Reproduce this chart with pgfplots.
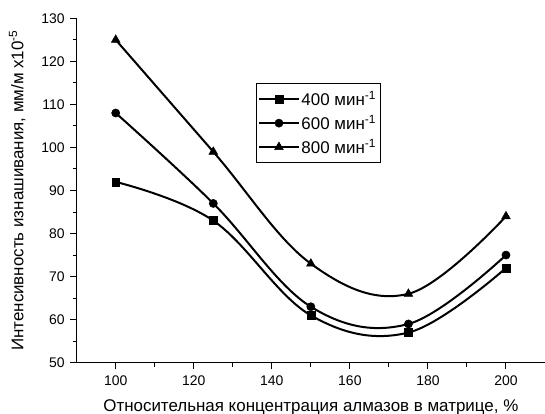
\documentclass[border=0pt]{standalone}
\usepackage{fontspec}
\setmainfont{Liberation Sans}
\usepackage{pgfplots}
\pgfplotsset{compat=1.18}

\begin{document}
\begin{tikzpicture}
\begin{axis}[
  scale only axis,
  width=468.3bp, height=344.4bp,
  xmin=90, xmax=210,
  ymin=50, ymax=130,
  xtick={100,120,...,200},
  ytick={50,60,...,130},
  minor x tick num=1,
  minor y tick num=1,
  axis x line*=bottom,
  axis y line*=left,
  axis line style={black, line width=1.2bp, -},
  tick align=outside,
  major tick length=6.5bp,
  minor tick length=4bp,
  tick style={black, line width=1bp},
  /pgf/number format/assume math mode=true,
  tick label style={font=\fontsize{14}{16}\selectfont},
  yticklabel style={xshift=-2bp},
  xticklabel style={yshift=-3bp},
  label style={font=\fontsize{17}{20}\selectfont},
  xlabel style={yshift=-7bp},
  ylabel style={yshift=9bp},
  xlabel={Относительная концентрация алмазов в матрице, \%},
  ylabel={Интенсивность изнашивания, мм/м x10\textsuperscript{-5}},
  every axis plot/.append style={black, line width=2bp, smooth, tension=0.62,
    mark options={solid, line width=0.5bp, fill=black}},
  legend style={at={(0.383,0.811)}, anchor=north west, draw=black, line width=0.8bp,
    font=\fontsize{17}{20}\selectfont, row sep=5bp, inner xsep=2bp, inner ysep=6bp,
    nodes={inner xsep=2bp, inner ysep=1.5bp}},
  legend cell align=left,
  legend image code/.code={
    \draw[mark repeat=2, mark phase=2] plot coordinates {(0bp,0bp) (19.5bp,0bp) (39bp,0bp)};
  },
]
\addplot[mark=square*, mark size=3.9bp] coordinates {
  (100,92) (125,83) (150,61) (175,57) (200,72)};
\addlegendentry{400 мин\textsuperscript{-1}}
\addplot[mark=*, mark size=4.1bp] coordinates {
  (100,108) (125,87) (150,63) (175,59) (200,75)};
\addlegendentry{600 мин\textsuperscript{-1}}
\addplot[mark=triangle*, mark size=5bp] coordinates {
  (100,125) (125,99) (150,73) (175,66) (200,84)};
\addlegendentry{800 мин\textsuperscript{-1}}
\coordinate (bl) at (rel axis cs:0,0);
\end{axis}
\pgfresetboundingbox
\path (bl) ++(-76.7bp,-51.3bp) rectangle ++(545bp,414bp);
\end{tikzpicture}
\end{document}
